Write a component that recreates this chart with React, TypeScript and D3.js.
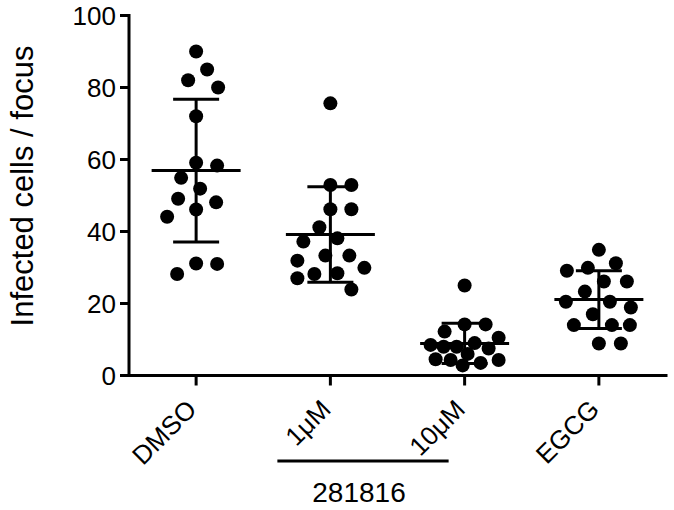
import React from 'react'
import * as d3 from 'd3'

// groups along the x axis
const groups = ['DMSO', '1\u03bcM', '10\u03bcM', 'EGCG']

// infected cells per focus
const dmso = [90, 85, 82, 80, 72, 59.1, 58.3, 54.9, 51.9, 49.1, 48.1, 46.1, 44.1, 31.1, 31, 28.2]
const um1 = [75.6, 52.9, 52.9, 46.2, 46.2, 41.2, 38.1, 37.2, 33.3, 33.3, 31.9, 29.9, 28.4, 28.2, 27, 23.9]
const um10 = [25, 14.2, 14.2, 12.2, 10.5, 9, 8.5, 8, 8, 7.5, 6, 4.5, 4.3, 4.3, 3.5, 2.8]
const egcg = [34.9, 31.2, 29.9, 29.1, 26.1, 26.1, 23.3, 20.5, 20.5, 18.9, 17, 14, 14, 14, 8.9, 8.9]

const yTicks = [0, 20, 40, 60, 80, 100]
const yLabel = 'Infected cells / focus'
const bracketGroups = ['1\u03bcM', '10\u03bcM']
const bracketLabel = '281816'

const W = 674
const H = 510
const left = 129
const right = 666
const top = 15.5
const bottom = 375.5
const R = 7
const font = '"Liberation Sans", Arial, Helvetica, sans-serif'

// beeswarm like Prism: closest free spot to the center, squeezed inside a max width
function swarm(values: number[], y: (v: number) => number, minDist: number, maxW: number) {
  const order = values.map((v, i) => i).sort((a, b) => values[b] - values[a])
  const placed: { x: number; y: number }[] = []
  const out: number[] = new Array(values.length).fill(0)
  for (const i of order) {
    const py = y(values[i])
    let best = 0
    let bestD = -1
    for (let k = 0; k <= maxW * 2; k++) {
      const dx = k === 0 ? 0 : (k % 2 ? Math.ceil(k / 2) : -Math.ceil(k / 2))
      const d = placed.length ? d3.min(placed, p => Math.hypot(p.x - dx, p.y - py)) as number : Infinity
      if (d >= minDist) { best = dx; bestD = d; break }
      if (d > bestD + 0.5) { best = dx; bestD = d }
    }
    placed.push({ x: best, y: py })
    out[i] = best
  }
  return out
}

export default function App() {
  const series = [dmso, um1, um10, egcg]

  const x = d3.scalePoint<string>().domain(groups).range([left, right]).padding(0.5)
  const y = d3.scaleLinear().domain([0, 100]).range([bottom, top])

  const bx1 = (x(bracketGroups[0]) as number) - 53
  const bx2 = (x(bracketGroups[1]) as number) - 16

  return (
    <svg width={W} height={H} style={{ position: 'absolute', left: 0, top: 0, background: '#fff' }} fontFamily={font}>
      {/* y axis */}
      <line x1={left} x2={left} y1={y(100)} y2={y(0)} stroke="#000" strokeWidth={3} strokeLinecap="square" />
      {yTicks.map(t => (
        <g key={t}>
          <line x1={left - 9} x2={left} y1={y(t)} y2={y(t)} stroke="#000" strokeWidth={3} />
          <text x={left - 13} y={y(t)} dy="0.36em" textAnchor="end" fontSize={26}>{t}</text>
        </g>
      ))}
      <text transform={`translate(33,186) rotate(-90)`} textAnchor="middle" fontSize={31}>{yLabel}</text>

      {/* x axis */}
      <line x1={left} x2={right} y1={y(0)} y2={y(0)} stroke="#000" strokeWidth={3} strokeLinecap="square" />
      {groups.map(g => (
        <g key={g}>
          <line x1={x(g)} x2={x(g)} y1={y(0)} y2={y(0) + 10} stroke="#000" strokeWidth={3} />
          <text transform={`translate(${(x(g) as number) + 2},411) rotate(-45)`} textAnchor="end" fontSize={26}>{g}</text>
        </g>
      ))}

      {/* bracket under the two 281816 doses */}
      <line x1={bx1} x2={bx2} y1={461} y2={461} stroke="#000" strokeWidth={3} />
      <text x={(bx1 + bx2) / 2 - 4} y={501.5} textAnchor="middle" fontSize={28}>{bracketLabel}</text>

      {/* dots with mean and SD */}
      {series.map((vals, gi) => {
        const cx = x(groups[gi]) as number
        const offs = swarm(vals, y, 21, 34)
        const m = d3.mean(vals) as number
        const sd = d3.deviation(vals) as number
        return (
          <g key={gi}>
            {vals.map((v, i) => (
              <circle key={i} cx={cx + offs[i]} cy={y(v)} r={R} fill="#000" />
            ))}
            <line x1={cx} x2={cx} y1={y(m + sd)} y2={y(m - sd)} stroke="#000" strokeWidth={3} />
            <line x1={cx - 23} x2={cx + 23} y1={y(m + sd)} y2={y(m + sd)} stroke="#000" strokeWidth={3} />
            <line x1={cx - 23} x2={cx + 23} y1={y(m - sd)} y2={y(m - sd)} stroke="#000" strokeWidth={3} />
            <line x1={cx - 44.5} x2={cx + 44.5} y1={y(m)} y2={y(m)} stroke="#000" strokeWidth={3} />
          </g>
        )
      })}
    </svg>
  )
}
